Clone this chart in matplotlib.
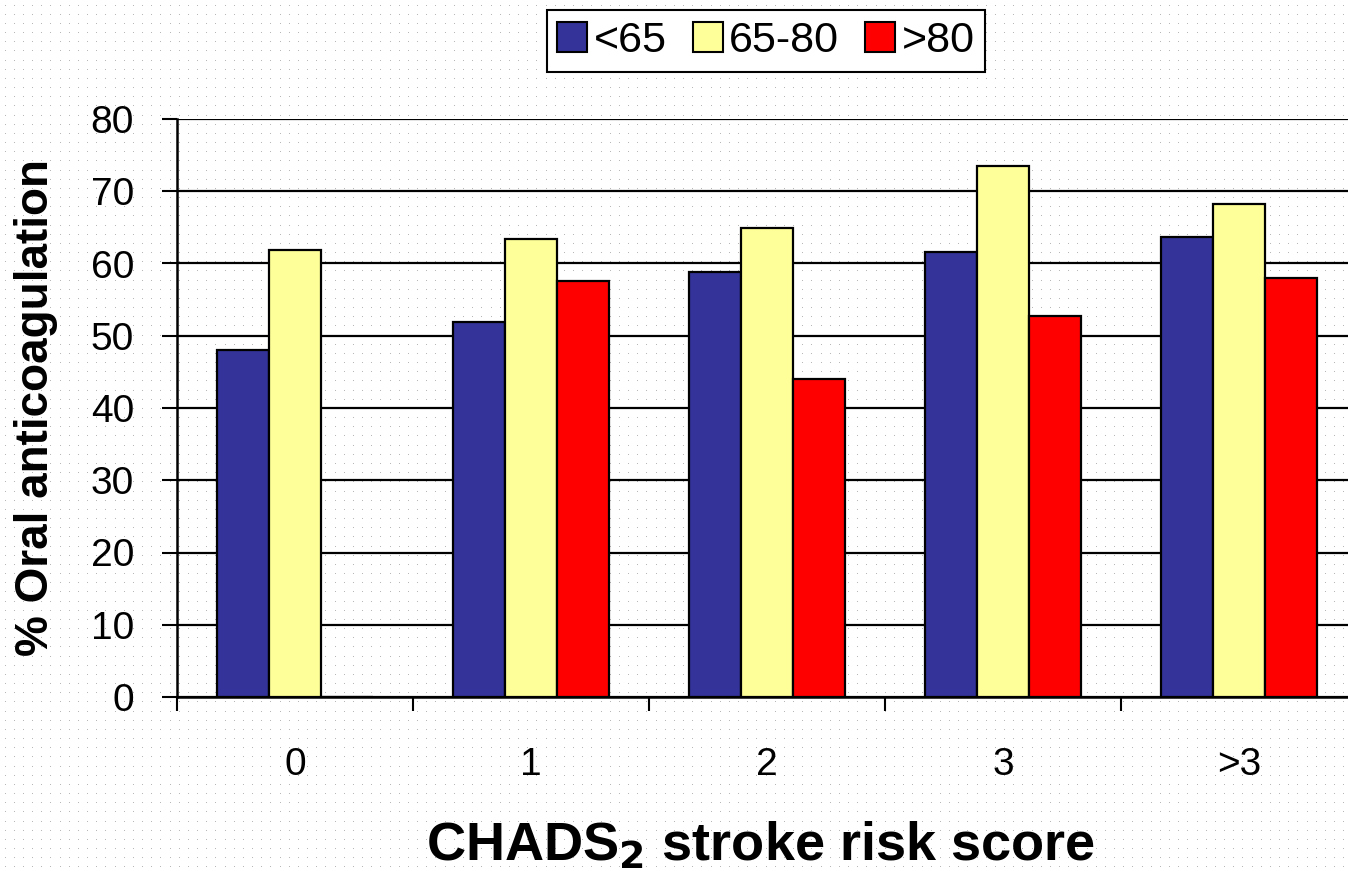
import numpy as np
import matplotlib
matplotlib.use("Agg")
import matplotlib.pyplot as plt
from matplotlib.patches import Patch

categories = ["0", "1", "2", "3", ">3"]
series_names = ["<65", "65-80", ">80"]
under65 = [48.0, 51.9, 58.8, 61.6, 63.7]
age65_80 = [61.9, 63.4, 64.9, 73.5, 68.2]
over80 = [0.0, 57.6, 44.0, 52.7, 58.0]
colors = ["#333399", "#FFFF99", "#FF0000"]
y_ticks = [0, 10, 20, 30, 40, 50, 60, 70, 80]

plt.rcParams["font.family"] = ["Liberation Sans", "DejaVu Sans"]

W, H = 1348, 871
fig = plt.figure(figsize=(W / 100, H / 100), dpi=100)

# light dotted background texture
bg = np.ones((H, W, 3))
ys = (np.arange(5, H, 9.17)).astype(int)
xs = (np.arange(5, W, 9.17)).astype(int)
for yy in ys:
    bg[yy, xs, :] = 0.72
fig.figimage(bg, 0, 0, zorder=-10)

AX_L, AX_B, AX_W, AX_H = 177, 697, 1180, 578
ax = fig.add_axes([AX_L / W, 1 - AX_B / H, AX_W / W, AX_H / H], zorder=2)
ax.set_facecolor("none")

x = np.arange(len(categories))
bw = 0.22
for i, (vals, c) in enumerate(zip([under65, age65_80, over80], colors)):
    ax.bar(x + (i - 1) * bw, vals, bw, color=c, edgecolor="black",
           linewidth=1.6, zorder=3)

ax.set_xlim(-0.5, len(categories) - 0.5)
ax.set_ylim(0, 80)
ax.set_yticks(y_ticks)
ax.set_yticklabels([str(t) for t in y_ticks], fontsize=28)
ax.yaxis.grid(True, color="black", linewidth=1.6, zorder=1)
ax.set_axisbelow(True)

ax.set_xticks(np.arange(len(categories) + 1) - 0.5)
ax.set_xticklabels([])
ax.set_xticks(x, minor=True)
ax.set_xticklabels(categories, minor=True, fontsize=28)
ax.tick_params(axis="x", which="major", length=10, width=1.5, direction="out")
ax.tick_params(axis="x", which="minor", length=0, pad=36)
ax.tick_params(axis="y", length=11, width=1.5, pad=20)

for s in ["top", "right"]:
    ax.spines[s].set_visible(False)
ax.spines["left"].set_linewidth(1.8)
ax.spines["bottom"].set_linewidth(1.8)

ax.set_ylabel("% Oral anticoagulation", fontsize=33, fontweight="bold", va="center")
ax.yaxis.set_label_coords((36 - AX_L) / AX_W, 0.5)
ax.set_xlabel("CHADS$_\\mathbf{2}$ stroke risk score", fontsize=39, fontweight="bold", va="center")
ax.xaxis.set_label_coords((761 - AX_L) / AX_W, -(845 - AX_B) / AX_H)

handles = [Patch(facecolor=c, edgecolor="black", linewidth=1.5) for c in colors]
leg = fig.legend(handles, series_names, loc="center", bbox_to_anchor=(766 / W, 1 - 41 / H),
                 ncol=3, fontsize=31, frameon=True, fancybox=False, edgecolor="black",
                 handlelength=0.7, handleheight=0.7, handletextpad=0.15, columnspacing=0.6,
                 borderpad=0.25, framealpha=1)
leg.get_frame().set_linewidth(1.5)
leg.set_zorder(3)

fig.savefig("out.png", dpi=100)
